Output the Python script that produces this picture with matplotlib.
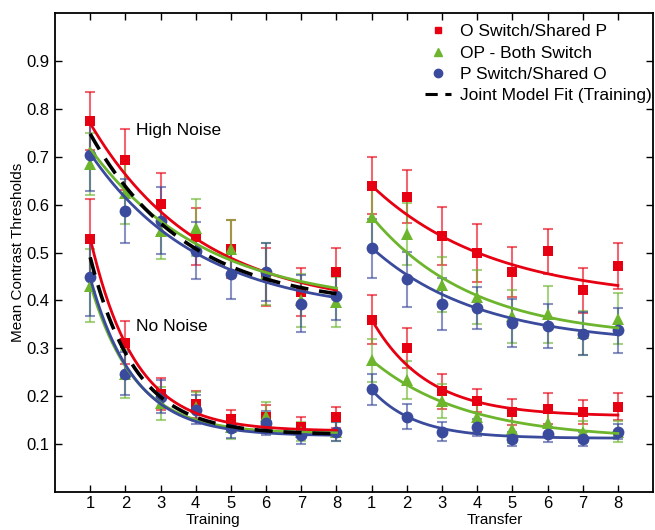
import numpy as np
import matplotlib
matplotlib.use("Agg")
import matplotlib.pyplot as plt
from matplotlib.lines import Line2D
from matplotlib import font_manager

plt.rcParams['font.family'] = ['Liberation Sans', 'DejaVu Sans']
try:
    font_manager.findfont('Liberation Sans Narrow', fallback_to_default=False)
    tick_family = ['Liberation Sans Narrow', 'Liberation Sans', 'DejaVu Sans']
except Exception:
    tick_family = ['Liberation Sans', 'DejaVu Sans']

# ---------------- data ----------------
sessions = [1, 2, 3, 4, 5, 6, 7, 8]
tick_labels = ['1', '2', '3', '4', '5', '6', '7', '8'] * 2
ytick_values = [0.1, 0.2, 0.3, 0.4, 0.5, 0.6, 0.7, 0.8, 0.9]
ytick_labels = ['0.1', '0.2', '0.3', '0.4', '0.5', '0.6', '0.7', '0.8', '0.9']
series_names = ['O Switch/Shared P', 'OP - Both Switch', 'P Switch/Shared O']
fit_name = 'Joint Model Fit (Training)'

# Training, High noise
train_high_red = [0.775, 0.694, 0.602, 0.533, 0.507, 0.449, 0.417, 0.459]
train_high_green = [0.685, 0.625, 0.546, 0.552, 0.508, 0.455, 0.400, 0.396]
train_high_blue = [0.704, 0.587, 0.566, 0.504, 0.456, 0.459, 0.393, 0.410]
train_high_red_err = [0.060, 0.064, 0.065, 0.060, 0.060, 0.060, 0.050, 0.050]
train_high_green_err = [0.065, 0.065, 0.060, 0.060, 0.060, 0.065, 0.055, 0.052]
train_high_blue_err = [0.075, 0.067, 0.070, 0.060, 0.053, 0.060, 0.060, 0.050]

# Training, No noise
train_low_red = [0.529, 0.312, 0.204, 0.183, 0.152, 0.157, 0.136, 0.156]
train_low_green = [0.431, 0.246, 0.185, 0.178, 0.136, 0.158, 0.126, 0.126]
train_low_blue = [0.448, 0.247, 0.199, 0.172, 0.134, 0.143, 0.119, 0.126]
train_low_red_err = [0.083, 0.045, 0.033, 0.028, 0.020, 0.025, 0.020, 0.022]
train_low_green_err = [0.077, 0.050, 0.035, 0.030, 0.025, 0.030, 0.020, 0.020]
train_low_blue_err = [0.080, 0.045, 0.035, 0.030, 0.022, 0.025, 0.020, 0.020]

# Transfer, High noise
trans_high_red = [0.640, 0.617, 0.535, 0.499, 0.459, 0.503, 0.421, 0.471]
trans_high_green = [0.575, 0.539, 0.433, 0.407, 0.367, 0.371, 0.332, 0.362]
trans_high_blue = [0.509, 0.444, 0.392, 0.384, 0.353, 0.346, 0.330, 0.338]
trans_high_red_err = [0.060, 0.056, 0.060, 0.060, 0.052, 0.047, 0.047, 0.048]
trans_high_green_err = [0.068, 0.065, 0.057, 0.057, 0.055, 0.059, 0.046, 0.053]
trans_high_blue_err = [0.062, 0.058, 0.054, 0.044, 0.050, 0.046, 0.045, 0.047]

# Transfer, No noise
trans_low_red = [0.360, 0.300, 0.210, 0.190, 0.166, 0.174, 0.167, 0.178]
trans_low_green = [0.275, 0.233, 0.190, 0.156, 0.131, 0.144, 0.126, 0.126]
trans_low_blue = [0.214, 0.157, 0.126, 0.135, 0.110, 0.120, 0.110, 0.126]
trans_low_red_err = [0.052, 0.042, 0.036, 0.024, 0.027, 0.032, 0.025, 0.028]
trans_low_green_err = [0.045, 0.040, 0.035, 0.030, 0.028, 0.030, 0.022, 0.022]
trans_low_blue_err = [0.033, 0.026, 0.020, 0.018, 0.015, 0.016, 0.015, 0.015]

# Fitted curves: threshold = asym + amp * rate ** (session - 1)
fit_train_high = {'red': (0.380, 0.390, 0.726), 'green': (0.387, 0.330, 0.736),
                  'blue': (0.370, 0.337, 0.726), 'joint': (0.385, 0.363, 0.697)}
fit_train_low = {'red': (0.127, 0.403, 0.454), 'green': (0.122, 0.313, 0.450),
                 'blue': (0.117, 0.330, 0.450), 'joint': (0.120, 0.370, 0.460)}
fit_trans_high = {'red': (0.400, 0.240, 0.747), 'green': (0.320, 0.255, 0.707),
                  'blue': (0.308, 0.202, 0.720)}
fit_trans_low = {'red': (0.158, 0.202, 0.530), 'green': (0.110, 0.165, 0.688),
                 'blue': (0.112, 0.101, 0.450)}

# ---------------- style ----------------
colors = {'red': '#e60012', 'green': '#6cb52d', 'blue': '#3a4a9c', 'joint': 'black'}
markers = {'red': 's', 'green': '^', 'blue': 'o'}
msizes = {'red': 7.5, 'green': 9, 'blue': 8.5}

fig = plt.figure(figsize=(6.55, 5.3), dpi=100)
ax = fig.add_axes([0.084, 0.072, 0.913, 0.903])

x_train = np.array(sessions, dtype=float)
x_trans = x_train + 8

groups = [
    (x_train, {'red': (train_high_red, train_high_red_err),
               'green': (train_high_green, train_high_green_err),
               'blue': (train_high_blue, train_high_blue_err)}, fit_train_high),
    (x_train, {'red': (train_low_red, train_low_red_err),
               'green': (train_low_green, train_low_green_err),
               'blue': (train_low_blue, train_low_blue_err)}, fit_train_low),
    (x_trans, {'red': (trans_high_red, trans_high_red_err),
               'green': (trans_high_green, trans_high_green_err),
               'blue': (trans_high_blue, trans_high_blue_err)}, fit_trans_high),
    (x_trans, {'red': (trans_low_red, trans_low_red_err),
               'green': (trans_low_green, trans_low_green_err),
               'blue': (trans_low_blue, trans_low_blue_err)}, fit_trans_low),
]

for xs, data, fits in groups:
    for key in ['red', 'green', 'blue']:
        vals, errs = data[key]
        ax.errorbar(xs, vals, yerr=errs, fmt='none', ecolor=colors[key],
                    alpha=0.6, elinewidth=1.5, capsize=3.5, capthick=1.5, zorder=2)
    for key in ['red', 'green', 'blue']:
        vals, errs = data[key]
        ax.plot(xs, vals, linestyle='none', marker=markers[key], ms=msizes[key],
                color=colors[key], markeredgewidth=0, zorder=3)
    xf = np.linspace(xs[0], xs[-1], 200)
    for key in ['red', 'green', 'blue', 'joint']:
        if key not in fits:
            continue
        a, b, r = fits[key]
        yf = a + b * r ** (xf - xs[0])
        if key == 'joint':
            ax.plot(xf, yf, color='black', lw=2.6, dashes=(5, 3), zorder=5)
        else:
            ax.plot(xf, yf, color=colors[key], lw=2, zorder=4)

ax.set_xlim(0, 17)
ax.set_ylim(0, 1.0)
ax.set_xticks(np.arange(1, 17))
ax.set_xticklabels(tick_labels, fontsize=12, family=tick_family)
ax.set_yticks(ytick_values)
ax.set_yticklabels(ytick_labels, fontsize=12, family=tick_family)
ax.tick_params(direction='in', top=True, right=True, length=5, width=1)
ax.tick_params(axis='x', pad=3)
ax.tick_params(axis='y', pad=4)
for s in ax.spines.values():
    s.set_linewidth(1.3)

ax.set_ylabel('Mean Contrast Thresholds', fontsize=11, labelpad=1)
ax.text(4.5, -0.044, 'Training', ha='center', va='top', fontsize=11,
        transform=ax.transData, clip_on=False)
ax.text(12.5, -0.044, 'Transfer', ha='center', va='top', fontsize=11,
        transform=ax.transData, clip_on=False)

ax.text(2.3, 0.755, 'High Noise', fontsize=12.5, ha='left', va='center')
ax.text(2.3, 0.346, 'No Noise', fontsize=12.5, ha='left', va='center')

handles = [Line2D([], [], linestyle='none', marker='s', ms=5, color=colors['red']),
           Line2D([], [], linestyle='none', marker='^', ms=6, color=colors['green']),
           Line2D([], [], linestyle='none', marker='o', ms=6, color=colors['blue']),
           Line2D([], [], color='black', lw=2.2, dashes=(4, 2.5))]
ax.legend(handles, series_names + [fit_name], loc='upper right', frameon=False,
          fontsize=12.5, handlelength=1.5, handletextpad=0.5, labelspacing=0.35,
          borderaxespad=0.1, bbox_to_anchor=(1.012, 0.995))

fig.savefig('out.png', dpi=100)
